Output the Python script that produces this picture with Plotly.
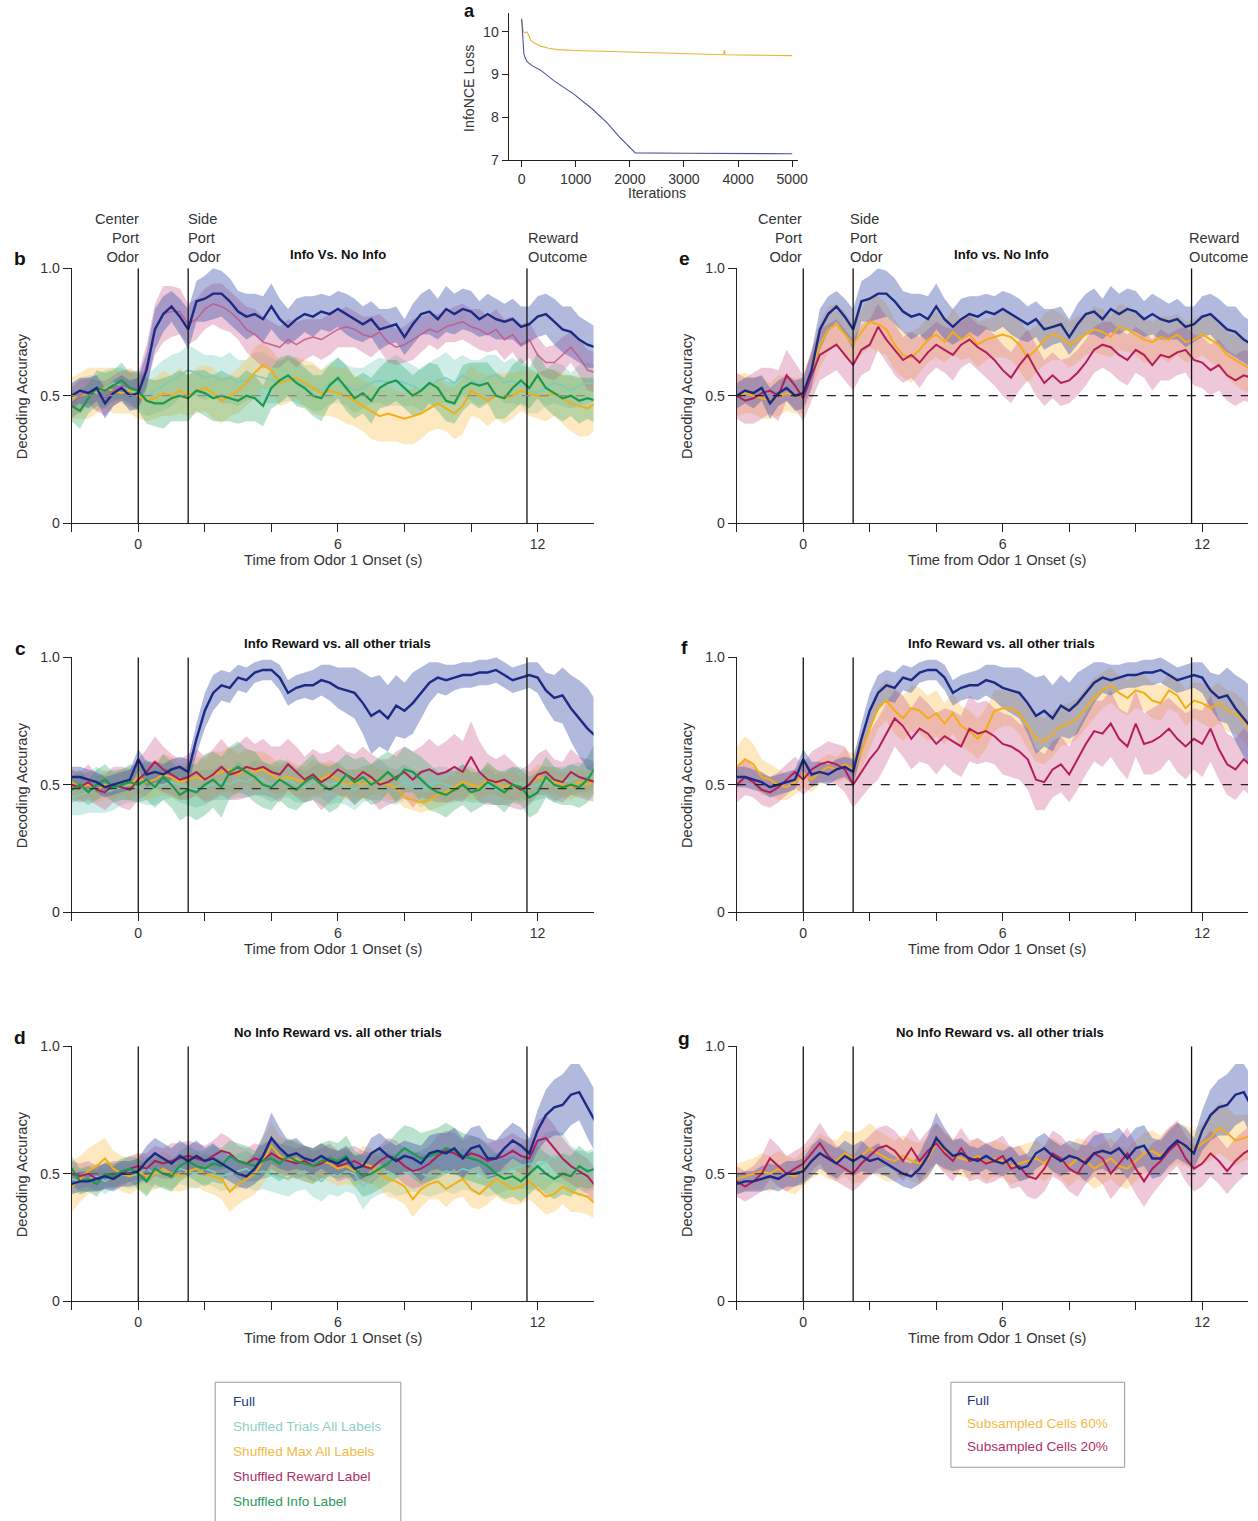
import plotly.graph_objects as go

W, H = 1258, 1521
FONT = "Liberation Sans, Arial, Helvetica, sans-serif"
TXT = "#333333"

# ---------------- panel a data ----------------
ITER_YEL = [0, 15, 30, 60, 100, 130, 166, 250, 351, 500, 658, 1000, 1500, 2196, 3000, 3733, 3745, 3760, 4300, 4963, 5000]
LOSS_YEL = [10.28, 10.15, 10.0, 9.97, 9.99, 9.92, 9.80, 9.72, 9.66, 9.61, 9.58, 9.56, 9.54, 9.52, 9.49, 9.46, 9.57, 9.46, 9.45, 9.44, 9.44]
ITER_BLUE = [0, 20, 40, 60, 100, 200, 350, 600, 965, 1300, 1581, 1800, 2073, 2100, 3000, 4000, 5000]
LOSS_BLUE = [10.3, 9.8, 9.5, 9.4, 9.3, 9.2, 9.1, 8.85, 8.54, 8.2, 7.87, 7.55, 7.19, 7.17, 7.16, 7.15, 7.15]

# ---------------- time grid ----------------
T = [-2.0, -1.75, -1.5, -1.25, -1.0, -0.75, -0.5, -0.25,
     0.0, 0.25, 0.5, 0.75, 1.0, 1.25, 1.5, 1.75,
     2.0, 2.25, 2.5, 2.75, 3.0, 3.25, 3.5, 3.75,
     4.0, 4.25, 4.5, 4.75, 5.0, 5.25, 5.5, 5.75,
     6.0, 6.25, 6.5, 6.75, 7.0, 7.25, 7.5, 7.75,
     8.0, 8.25, 8.5, 8.75, 9.0, 9.25, 9.5, 9.75,
     10.0, 10.25, 10.5, 10.75, 11.0, 11.25, 11.5, 11.75,
     12.0, 12.25, 12.5, 12.75, 13.0, 13.25, 13.5, 13.75]

EVENTS = [0.0, 1.5, 11.68]
X_TICKS = [-2, 0, 2, 4, 6, 8, 10, 12]
X_TICKTEXT = ["", "0", "", "", "6", "", "", "12"]
Y_TICKS = [0, 0.5, 1.0]
Y_TICKTEXT = ["0", "0.5", "1.0"]

# ---------------- Full model ----------------
FULL_INFO = [0.50, 0.52, 0.51, 0.53, 0.47, 0.51, 0.53, 0.50,
             0.51, 0.60, 0.76, 0.82, 0.85, 0.81, 0.76, 0.87,
             0.88, 0.90, 0.90, 0.87, 0.83, 0.81, 0.82, 0.80,
             0.85, 0.80, 0.77, 0.80, 0.82, 0.81, 0.83, 0.82,
             0.84, 0.82, 0.80, 0.78, 0.80, 0.76, 0.77, 0.78,
             0.73, 0.78, 0.82, 0.83, 0.80, 0.84, 0.82, 0.84,
             0.83, 0.80, 0.82, 0.80, 0.79, 0.80, 0.77, 0.78,
             0.81, 0.82, 0.79, 0.76, 0.75, 0.72, 0.70, 0.69]
FULL_INFO_ERR = [0.05, 0.05, 0.06, 0.05, 0.06, 0.05, 0.05, 0.06,
                 0.06, 0.07, 0.08, 0.07, 0.06, 0.07, 0.08, 0.08,
                 0.09, 0.10, 0.09, 0.09, 0.08, 0.09, 0.08, 0.09,
                 0.09, 0.08, 0.07, 0.08, 0.07, 0.08, 0.07, 0.07,
                 0.07, 0.08, 0.08, 0.07, 0.07, 0.08, 0.07, 0.07,
                 0.07, 0.08, 0.08, 0.09, 0.08, 0.09, 0.08, 0.08,
                 0.08, 0.07, 0.08, 0.08, 0.07, 0.08, 0.08, 0.07,
                 0.08, 0.08, 0.09, 0.09, 0.10, 0.09, 0.09, 0.08]

FULL_IREW = [0.53, 0.53, 0.52, 0.51, 0.49, 0.50, 0.51, 0.52,
             0.60, 0.54, 0.55, 0.54, 0.56, 0.57, 0.55, 0.68,
             0.79, 0.86, 0.89, 0.88, 0.92, 0.91, 0.94, 0.95,
             0.95, 0.92, 0.86, 0.88, 0.89, 0.89, 0.91, 0.90,
             0.88, 0.87, 0.86, 0.82, 0.77, 0.79, 0.76, 0.81,
             0.79, 0.82, 0.86, 0.90, 0.92, 0.91, 0.92, 0.93,
             0.93, 0.94, 0.94, 0.95, 0.93, 0.91, 0.92, 0.93,
             0.92, 0.87, 0.84, 0.85, 0.80, 0.76, 0.72, 0.69]
FULL_IREW_ERR = [0.04, 0.04, 0.04, 0.04, 0.04, 0.04, 0.04, 0.04,
                 0.04, 0.05, 0.04, 0.04, 0.04, 0.04, 0.05, 0.06,
                 0.07, 0.07, 0.06, 0.06, 0.05, 0.05, 0.04, 0.04,
                 0.04, 0.05, 0.05, 0.05, 0.05, 0.06, 0.06, 0.07,
                 0.08, 0.09, 0.10, 0.12, 0.15, 0.14, 0.13, 0.12,
                 0.11, 0.12, 0.10, 0.08, 0.06, 0.06, 0.05, 0.05,
                 0.05, 0.05, 0.05, 0.05, 0.05, 0.05, 0.05, 0.05,
                 0.06, 0.07, 0.09, 0.11, 0.13, 0.15, 0.16, 0.14]

FULL_NIREW = [0.46, 0.47, 0.47, 0.48, 0.49, 0.48, 0.50, 0.50,
              0.51, 0.55, 0.58, 0.56, 0.54, 0.57, 0.55, 0.57,
              0.55, 0.56, 0.54, 0.52, 0.50, 0.49, 0.52, 0.57,
              0.64, 0.60, 0.57, 0.58, 0.56, 0.55, 0.57, 0.55,
              0.54, 0.56, 0.52, 0.53, 0.58, 0.60, 0.57, 0.55,
              0.57, 0.56, 0.54, 0.58, 0.59, 0.58, 0.60, 0.56,
              0.60, 0.61, 0.56, 0.56, 0.60, 0.63, 0.61, 0.58,
              0.67, 0.73, 0.76, 0.77, 0.81, 0.82, 0.76, 0.70]
FULL_NIREW_ERR = [0.04, 0.04, 0.04, 0.05, 0.05, 0.05, 0.05, 0.05,
                  0.05, 0.06, 0.06, 0.06, 0.06, 0.06, 0.06, 0.06,
                  0.05, 0.06, 0.05, 0.05, 0.05, 0.05, 0.06, 0.08,
                  0.10, 0.08, 0.06, 0.06, 0.05, 0.05, 0.05, 0.05,
                  0.05, 0.05, 0.05, 0.05, 0.06, 0.06, 0.06, 0.06,
                  0.06, 0.06, 0.07, 0.07, 0.07, 0.08, 0.08, 0.08,
                  0.08, 0.08, 0.08, 0.07, 0.07, 0.07, 0.07, 0.06,
                  0.08, 0.10, 0.11, 0.12, 0.12, 0.11, 0.12, 0.12]

# ---------------- panel b shuffles ----------------
B_TRIALS = [0.48, 0.50, 0.52, 0.51, 0.53, 0.55, 0.54, 0.52,
            0.51, 0.50, 0.52, 0.54, 0.56, 0.58, 0.60, 0.59,
            0.57, 0.58, 0.56, 0.57, 0.55, 0.56, 0.58, 0.57,
            0.56, 0.55, 0.57, 0.56, 0.54, 0.53, 0.52, 0.55,
            0.56, 0.54, 0.52, 0.53, 0.55, 0.56, 0.55, 0.56,
            0.55, 0.54, 0.52, 0.54, 0.56, 0.57, 0.55, 0.58,
            0.56, 0.55, 0.57, 0.58, 0.55, 0.56, 0.54, 0.52,
            0.51, 0.53, 0.55, 0.54, 0.52, 0.54, 0.55, 0.55]
B_TRIALS_ERR = [0.06, 0.07, 0.06, 0.07, 0.07, 0.06, 0.07, 0.07,
                0.07, 0.08, 0.09, 0.10, 0.10, 0.09, 0.10, 0.09,
                0.09, 0.08, 0.09, 0.10, 0.09, 0.08, 0.09, 0.10,
                0.09, 0.08, 0.09, 0.09, 0.08, 0.09, 0.08, 0.08,
                0.09, 0.08, 0.09, 0.08, 0.08, 0.09, 0.09, 0.10,
                0.09, 0.08, 0.08, 0.09, 0.09, 0.10, 0.09, 0.08,
                0.08, 0.09, 0.09, 0.08, 0.08, 0.09, 0.08, 0.09,
                0.08, 0.07, 0.08, 0.08, 0.07, 0.08, 0.08, 0.07]
B_MAX = [0.49, 0.50, 0.51, 0.52, 0.53, 0.52, 0.51, 0.52,
         0.50, 0.48, 0.49, 0.51, 0.50, 0.52, 0.50, 0.52,
         0.53, 0.51, 0.48, 0.50, 0.52, 0.55, 0.59, 0.62,
         0.60, 0.55, 0.56, 0.57, 0.55, 0.53, 0.51, 0.52,
         0.51, 0.50, 0.48, 0.46, 0.44, 0.42, 0.43, 0.42,
         0.41, 0.42, 0.43, 0.45, 0.47, 0.45, 0.43, 0.46,
         0.52, 0.50, 0.48, 0.50, 0.49, 0.50, 0.52, 0.51,
         0.50, 0.50, 0.51, 0.49, 0.47, 0.46, 0.45, 0.47]
B_MAX_ERR = [0.08, 0.09, 0.10, 0.09, 0.08, 0.09, 0.08, 0.09,
             0.09, 0.08, 0.08, 0.09, 0.08, 0.09, 0.08, 0.09,
             0.09, 0.10, 0.09, 0.08, 0.09, 0.09, 0.10, 0.09,
             0.08, 0.09, 0.09, 0.08, 0.09, 0.10, 0.09, 0.10,
             0.10, 0.11, 0.10, 0.10, 0.11, 0.10, 0.11, 0.10,
             0.10, 0.11, 0.10, 0.09, 0.10, 0.09, 0.10, 0.11,
             0.10, 0.09, 0.10, 0.09, 0.10, 0.09, 0.08, 0.09,
             0.09, 0.10, 0.09, 0.10, 0.11, 0.12, 0.11, 0.10]
B_REWARD = [0.47, 0.50, 0.52, 0.50, 0.49, 0.52, 0.54, 0.53,
            0.52, 0.62, 0.76, 0.82, 0.83, 0.83, 0.78, 0.80,
            0.84, 0.86, 0.85, 0.83, 0.80, 0.76, 0.74, 0.71,
            0.70, 0.69, 0.72, 0.70, 0.72, 0.73, 0.72, 0.74,
            0.76, 0.77, 0.76, 0.74, 0.73, 0.75, 0.71, 0.69,
            0.70, 0.72, 0.74, 0.76, 0.75, 0.77, 0.78, 0.79,
            0.77, 0.76, 0.74, 0.76, 0.72, 0.74, 0.70, 0.72,
            0.66, 0.63, 0.63, 0.66, 0.69, 0.65, 0.60, 0.59]
B_REWARD_ERR = [0.06, 0.06, 0.05, 0.06, 0.07, 0.06, 0.06, 0.07,
                0.07, 0.08, 0.10, 0.11, 0.10, 0.09, 0.08, 0.08,
                0.08, 0.08, 0.09, 0.08, 0.08, 0.09, 0.10, 0.10,
                0.09, 0.08, 0.08, 0.09, 0.08, 0.07, 0.08, 0.08,
                0.07, 0.08, 0.07, 0.07, 0.08, 0.07, 0.08, 0.07,
                0.07, 0.08, 0.07, 0.06, 0.07, 0.06, 0.07, 0.07,
                0.07, 0.08, 0.07, 0.08, 0.08, 0.07, 0.08, 0.07,
                0.07, 0.06, 0.07, 0.07, 0.06, 0.07, 0.08, 0.08]
B_INFO = [0.46, 0.44, 0.49, 0.53, 0.52, 0.54, 0.56, 0.53,
          0.52, 0.48, 0.47, 0.47, 0.49, 0.50, 0.49, 0.52,
          0.51, 0.49, 0.50, 0.49, 0.48, 0.50, 0.49, 0.46,
          0.53, 0.56, 0.58, 0.55, 0.53, 0.50, 0.49, 0.54,
          0.57, 0.53, 0.49, 0.51, 0.48, 0.53, 0.55, 0.56,
          0.53, 0.50, 0.52, 0.55, 0.53, 0.48, 0.47, 0.53,
          0.55, 0.54, 0.55, 0.50, 0.49, 0.53, 0.56, 0.53,
          0.58, 0.53, 0.51, 0.49, 0.50, 0.48, 0.49, 0.48]
B_INFO_ERR = [0.06, 0.07, 0.06, 0.07, 0.07, 0.06, 0.07, 0.06,
              0.08, 0.09, 0.09, 0.10, 0.09, 0.10, 0.09, 0.08,
              0.09, 0.09, 0.10, 0.09, 0.09, 0.10, 0.09, 0.08,
              0.08, 0.09, 0.08, 0.09, 0.08, 0.08, 0.09, 0.08,
              0.08, 0.09, 0.08, 0.08, 0.09, 0.08, 0.09, 0.08,
              0.08, 0.08, 0.09, 0.08, 0.09, 0.08, 0.08, 0.09,
              0.08, 0.09, 0.08, 0.09, 0.08, 0.09, 0.09, 0.08,
              0.09, 0.08, 0.09, 0.09, 0.08, 0.09, 0.08, 0.09]

# ---------------- panel c shuffles ----------------
C_TRIALS = [0.45, 0.46, 0.47, 0.48, 0.47, 0.48, 0.49, 0.50,
            0.49, 0.48, 0.49, 0.50, 0.51, 0.50, 0.49, 0.48,
            0.49, 0.50, 0.51, 0.50, 0.52, 0.51, 0.53, 0.52,
            0.50, 0.51, 0.52, 0.50, 0.49, 0.51, 0.52, 0.50,
            0.51, 0.49, 0.48, 0.50, 0.51, 0.52, 0.50, 0.49,
            0.51, 0.50, 0.48, 0.50, 0.51, 0.50, 0.49, 0.51,
            0.50, 0.49, 0.50, 0.48, 0.49, 0.50, 0.51, 0.49,
            0.50, 0.51, 0.50, 0.51, 0.52, 0.53, 0.52, 0.54]
C_TRIALS_ERR = [0.07, 0.08, 0.08, 0.09, 0.08, 0.08, 0.07, 0.07,
                0.06, 0.06, 0.07, 0.06, 0.06, 0.07, 0.07, 0.07,
                0.07, 0.06, 0.07, 0.06, 0.07, 0.06, 0.07, 0.07,
                0.07, 0.06, 0.07, 0.07, 0.06, 0.06, 0.07, 0.08,
                0.08, 0.07, 0.08, 0.07, 0.07, 0.08, 0.07, 0.07,
                0.07, 0.06, 0.07, 0.06, 0.06, 0.07, 0.06, 0.07,
                0.07, 0.06, 0.07, 0.06, 0.07, 0.07, 0.06, 0.06,
                0.06, 0.06, 0.07, 0.06, 0.06, 0.06, 0.05, 0.05]
C_MAX = [0.51, 0.49, 0.50, 0.48, 0.50, 0.49, 0.51, 0.50,
         0.53, 0.51, 0.52, 0.54, 0.53, 0.51, 0.52, 0.53,
         0.52, 0.54, 0.55, 0.56, 0.54, 0.57, 0.55, 0.56,
         0.54, 0.52, 0.53, 0.52, 0.51, 0.53, 0.52, 0.54,
         0.52, 0.50, 0.51, 0.50, 0.52, 0.51, 0.50, 0.49,
         0.45, 0.44, 0.43, 0.44, 0.46, 0.47, 0.49, 0.51,
         0.50, 0.49, 0.52, 0.51, 0.49, 0.50, 0.48, 0.50,
         0.53, 0.52, 0.51, 0.50, 0.49, 0.51, 0.50, 0.52]
C_MAX_ERR = [0.05, 0.05, 0.05, 0.05, 0.06, 0.05, 0.05, 0.06,
             0.06, 0.07, 0.07, 0.08, 0.08, 0.07, 0.07, 0.08,
             0.08, 0.09, 0.08, 0.09, 0.08, 0.07, 0.08, 0.07,
             0.07, 0.06, 0.07, 0.06, 0.06, 0.07, 0.06, 0.06,
             0.06, 0.06, 0.05, 0.06, 0.06, 0.05, 0.06, 0.05,
             0.04, 0.04, 0.04, 0.04, 0.05, 0.05, 0.05, 0.06,
             0.06, 0.05, 0.06, 0.05, 0.05, 0.06, 0.05, 0.05,
             0.05, 0.05, 0.05, 0.05, 0.05, 0.05, 0.05, 0.05]
C_REWARD = [0.50, 0.49, 0.51, 0.48, 0.47, 0.50, 0.49, 0.48,
            0.52, 0.55, 0.59, 0.56, 0.54, 0.52, 0.53, 0.55,
            0.52, 0.54, 0.57, 0.54, 0.55, 0.57, 0.56, 0.57,
            0.55, 0.54, 0.58, 0.55, 0.52, 0.54, 0.51, 0.53,
            0.56, 0.54, 0.52, 0.55, 0.53, 0.50, 0.51, 0.53,
            0.55, 0.52, 0.55, 0.56, 0.54, 0.55, 0.57, 0.55,
            0.61, 0.55, 0.52, 0.51, 0.52, 0.50, 0.48, 0.50,
            0.54, 0.55, 0.52, 0.51, 0.55, 0.53, 0.52, 0.51]
C_REWARD_ERR = [0.06, 0.06, 0.07, 0.06, 0.07, 0.07, 0.08, 0.08,
                0.08, 0.09, 0.10, 0.09, 0.08, 0.08, 0.09, 0.09,
                0.09, 0.10, 0.11, 0.10, 0.11, 0.12, 0.10, 0.11,
                0.10, 0.11, 0.10, 0.10, 0.09, 0.10, 0.11, 0.10,
                0.10, 0.09, 0.10, 0.10, 0.09, 0.10, 0.09, 0.10,
                0.10, 0.11, 0.10, 0.12, 0.11, 0.12, 0.13, 0.12,
                0.14, 0.12, 0.10, 0.09, 0.10, 0.09, 0.08, 0.08,
                0.08, 0.09, 0.08, 0.08, 0.09, 0.08, 0.08, 0.08]
C_INFO = [0.48, 0.50, 0.47, 0.50, 0.52, 0.49, 0.50, 0.51,
          0.50, 0.52, 0.49, 0.53, 0.50, 0.46, 0.48, 0.47,
          0.50, 0.52, 0.49, 0.55, 0.57, 0.55, 0.53, 0.50,
          0.49, 0.52, 0.50, 0.48, 0.51, 0.53, 0.50, 0.48,
          0.50, 0.54, 0.51, 0.53, 0.50, 0.52, 0.55, 0.52,
          0.56, 0.55, 0.52, 0.49, 0.47, 0.46, 0.48, 0.50,
          0.47, 0.48, 0.51, 0.49, 0.47, 0.50, 0.49, 0.45,
          0.47, 0.53, 0.50, 0.49, 0.50, 0.49, 0.52, 0.57]
C_INFO_ERR = [0.05, 0.06, 0.05, 0.06, 0.06, 0.06, 0.06, 0.07,
              0.07, 0.08, 0.08, 0.09, 0.09, 0.10, 0.10, 0.11,
              0.12, 0.11, 0.12, 0.10, 0.10, 0.09, 0.10, 0.09,
              0.09, 0.08, 0.09, 0.08, 0.08, 0.09, 0.08, 0.09,
              0.09, 0.08, 0.09, 0.08, 0.08, 0.09, 0.08, 0.09,
              0.09, 0.08, 0.09, 0.09, 0.08, 0.09, 0.08, 0.08,
              0.08, 0.07, 0.08, 0.07, 0.08, 0.07, 0.07, 0.08,
              0.08, 0.08, 0.07, 0.07, 0.08, 0.08, 0.09, 0.10]

# ---------------- panel d shuffles ----------------
D_TRIALS = [0.48, 0.47, 0.48, 0.49, 0.47, 0.49, 0.50, 0.49,
            0.50, 0.52, 0.50, 0.51, 0.50, 0.52, 0.51, 0.50,
            0.52, 0.51, 0.49, 0.50, 0.51, 0.52, 0.50, 0.51,
            0.50, 0.49, 0.48, 0.50, 0.51, 0.49, 0.47, 0.50,
            0.49, 0.51, 0.50, 0.45, 0.48, 0.50, 0.51, 0.49,
            0.50, 0.51, 0.50, 0.49, 0.50, 0.51, 0.50, 0.52,
            0.51, 0.50, 0.49, 0.50, 0.51, 0.52, 0.53, 0.54,
            0.53, 0.55, 0.57, 0.56, 0.52, 0.50, 0.51, 0.52]
D_TRIALS_ERR = [0.05, 0.05, 0.05, 0.05, 0.05, 0.05, 0.05, 0.05,
                0.05, 0.05, 0.06, 0.06, 0.06, 0.06, 0.06, 0.06,
                0.06, 0.06, 0.06, 0.06, 0.07, 0.07, 0.07, 0.07,
                0.07, 0.07, 0.07, 0.07, 0.07, 0.08, 0.08, 0.08,
                0.08, 0.08, 0.08, 0.09, 0.08, 0.08, 0.08, 0.08,
                0.08, 0.08, 0.08, 0.08, 0.08, 0.08, 0.08, 0.08,
                0.08, 0.08, 0.08, 0.08, 0.08, 0.08, 0.09, 0.10,
                0.10, 0.11, 0.10, 0.10, 0.09, 0.09, 0.08, 0.08]
D_MAX = [0.45, 0.48, 0.51, 0.53, 0.56, 0.52, 0.50, 0.49,
         0.51, 0.49, 0.50, 0.52, 0.50, 0.49, 0.51, 0.52,
         0.50, 0.49, 0.48, 0.43, 0.46, 0.48, 0.50, 0.55,
         0.61, 0.57, 0.55, 0.56, 0.54, 0.53, 0.55, 0.54,
         0.52, 0.53, 0.51, 0.54, 0.53, 0.50, 0.48, 0.47,
         0.45, 0.40, 0.44, 0.46, 0.47, 0.44, 0.46, 0.48,
         0.44, 0.42, 0.45, 0.48, 0.46, 0.44, 0.45, 0.47,
         0.44, 0.41, 0.42, 0.45, 0.43, 0.42, 0.41, 0.38]
D_MAX_ERR = [0.10, 0.09, 0.09, 0.09, 0.08, 0.07, 0.07, 0.07,
             0.07, 0.07, 0.06, 0.07, 0.07, 0.06, 0.07, 0.07,
             0.07, 0.07, 0.08, 0.08, 0.08, 0.08, 0.08, 0.09,
             0.09, 0.08, 0.08, 0.07, 0.07, 0.07, 0.07, 0.07,
             0.07, 0.07, 0.06, 0.07, 0.07, 0.06, 0.07, 0.07,
             0.07, 0.07, 0.07, 0.06, 0.07, 0.07, 0.06, 0.07,
             0.07, 0.06, 0.07, 0.07, 0.07, 0.06, 0.07, 0.07,
             0.07, 0.07, 0.07, 0.07, 0.08, 0.07, 0.07, 0.06]
D_REWARD = [0.50, 0.49, 0.50, 0.48, 0.49, 0.50, 0.50, 0.52,
            0.53, 0.52, 0.55, 0.54, 0.55, 0.56, 0.57, 0.56,
            0.55, 0.57, 0.59, 0.58, 0.55, 0.54, 0.56, 0.55,
            0.58, 0.56, 0.55, 0.54, 0.55, 0.53, 0.54, 0.56,
            0.53, 0.54, 0.55, 0.53, 0.52, 0.55, 0.57, 0.56,
            0.53, 0.51, 0.52, 0.54, 0.57, 0.59, 0.58, 0.56,
            0.58, 0.57, 0.55, 0.56, 0.57, 0.59, 0.57, 0.56,
            0.63, 0.64, 0.60, 0.56, 0.53, 0.51, 0.49, 0.45]
D_REWARD_ERR = [0.05, 0.05, 0.05, 0.05, 0.05, 0.05, 0.05, 0.05,
                0.05, 0.06, 0.06, 0.06, 0.07, 0.06, 0.06, 0.06,
                0.06, 0.06, 0.07, 0.06, 0.06, 0.06, 0.06, 0.06,
                0.06, 0.06, 0.06, 0.06, 0.06, 0.06, 0.06, 0.06,
                0.06, 0.06, 0.06, 0.06, 0.06, 0.06, 0.07, 0.07,
                0.07, 0.07, 0.07, 0.07, 0.08, 0.08, 0.08, 0.07,
                0.07, 0.07, 0.07, 0.07, 0.07, 0.07, 0.07, 0.07,
                0.08, 0.09, 0.09, 0.08, 0.07, 0.07, 0.07, 0.07]
D_INFO = [0.52, 0.47, 0.48, 0.46, 0.50, 0.49, 0.51, 0.52,
          0.50, 0.47, 0.52, 0.50, 0.49, 0.53, 0.55, 0.53,
          0.52, 0.54, 0.53, 0.57, 0.55, 0.54, 0.53, 0.55,
          0.56, 0.54, 0.57, 0.55, 0.54, 0.53, 0.55, 0.56,
          0.55, 0.57, 0.52, 0.49, 0.50, 0.52, 0.54, 0.57,
          0.60, 0.58, 0.56, 0.57, 0.58, 0.60, 0.59, 0.57,
          0.56, 0.55, 0.53, 0.50, 0.48, 0.49, 0.47, 0.50,
          0.53, 0.50, 0.48, 0.50, 0.49, 0.53, 0.51, 0.52]
D_INFO_ERR = [0.05, 0.05, 0.05, 0.05, 0.05, 0.05, 0.05, 0.05,
              0.06, 0.06, 0.06, 0.06, 0.06, 0.06, 0.06, 0.06,
              0.07, 0.07, 0.07, 0.06, 0.07, 0.07, 0.06, 0.07,
              0.07, 0.07, 0.07, 0.07, 0.07, 0.07, 0.07, 0.07,
              0.07, 0.08, 0.07, 0.08, 0.08, 0.08, 0.08, 0.09,
              0.09, 0.10, 0.10, 0.10, 0.10, 0.10, 0.09, 0.09,
              0.09, 0.09, 0.08, 0.08, 0.08, 0.08, 0.08, 0.08,
              0.08, 0.08, 0.08, 0.08, 0.08, 0.08, 0.07, 0.07]

# ---------------- subsampled (e, f, g) ----------------
E_60 = [0.50, 0.51, 0.50, 0.49, 0.48, 0.50, 0.51, 0.50,
        0.50, 0.60, 0.70, 0.76, 0.78, 0.74, 0.70, 0.75,
        0.79, 0.78, 0.76, 0.70, 0.66, 0.65, 0.68, 0.72,
        0.74, 0.71, 0.75, 0.72, 0.74, 0.70, 0.72, 0.73,
        0.74, 0.73, 0.70, 0.65, 0.68, 0.72, 0.74, 0.73,
        0.70, 0.72, 0.74, 0.76, 0.75, 0.73, 0.77, 0.76,
        0.74, 0.72, 0.71, 0.73, 0.72, 0.74, 0.71, 0.72,
        0.74, 0.72, 0.70, 0.66, 0.64, 0.62, 0.60, 0.57]
E_60_ERR = [0.08, 0.08, 0.07, 0.08, 0.07, 0.08, 0.07, 0.07,
            0.07, 0.08, 0.09, 0.09, 0.08, 0.09, 0.08, 0.09,
            0.10, 0.11, 0.10, 0.10, 0.09, 0.10, 0.09, 0.09,
            0.09, 0.08, 0.09, 0.08, 0.09, 0.09, 0.08, 0.08,
            0.09, 0.09, 0.10, 0.10, 0.09, 0.10, 0.10, 0.09,
            0.09, 0.09, 0.08, 0.09, 0.09, 0.08, 0.09, 0.09,
            0.08, 0.09, 0.08, 0.08, 0.09, 0.08, 0.08, 0.08,
            0.08, 0.09, 0.09, 0.09, 0.10, 0.10, 0.09, 0.09]
E_20 = [0.50, 0.48, 0.49, 0.51, 0.52, 0.50, 0.58, 0.54,
        0.49, 0.58, 0.66, 0.68, 0.70, 0.66, 0.62, 0.68,
        0.70, 0.77, 0.72, 0.68, 0.64, 0.66, 0.63, 0.67,
        0.70, 0.68, 0.66, 0.70, 0.72, 0.69, 0.67, 0.64,
        0.60, 0.57, 0.62, 0.66, 0.60, 0.55, 0.58, 0.55,
        0.56, 0.59, 0.63, 0.68, 0.70, 0.69, 0.66, 0.64,
        0.68, 0.66, 0.62, 0.66, 0.65, 0.67, 0.68, 0.64,
        0.63, 0.60, 0.62, 0.58, 0.56, 0.58, 0.57, 0.56]
E_20_ERR = [0.09, 0.09, 0.10, 0.10, 0.09, 0.10, 0.10, 0.09,
            0.09, 0.10, 0.10, 0.10, 0.10, 0.10, 0.10, 0.10,
            0.10, 0.09, 0.09, 0.10, 0.09, 0.09, 0.10, 0.09,
            0.09, 0.09, 0.10, 0.09, 0.09, 0.09, 0.10, 0.10,
            0.10, 0.10, 0.10, 0.10, 0.10, 0.09, 0.09, 0.09,
            0.09, 0.09, 0.09, 0.09, 0.09, 0.10, 0.10, 0.10,
            0.09, 0.09, 0.10, 0.10, 0.09, 0.09, 0.09, 0.10,
            0.10, 0.10, 0.10, 0.10, 0.10, 0.10, 0.10, 0.10]
F_60 = [0.57, 0.60, 0.58, 0.53, 0.52, 0.50, 0.49, 0.51,
        0.54, 0.52, 0.55, 0.57, 0.56, 0.58, 0.56, 0.63,
        0.72, 0.80, 0.83, 0.79, 0.76, 0.80, 0.79, 0.76,
        0.78, 0.74, 0.78, 0.73, 0.71, 0.68, 0.72, 0.79,
        0.80, 0.80, 0.78, 0.73, 0.68, 0.67, 0.70, 0.73,
        0.74, 0.76, 0.80, 0.84, 0.87, 0.89, 0.86, 0.84,
        0.87, 0.86, 0.83, 0.82, 0.87, 0.85, 0.80, 0.83,
        0.82, 0.80, 0.82, 0.79, 0.78, 0.75, 0.70, 0.68]
F_60_ERR = [0.08, 0.09, 0.08, 0.07, 0.06, 0.06, 0.05, 0.05,
            0.05, 0.05, 0.05, 0.05, 0.05, 0.06, 0.06, 0.07,
            0.08, 0.08, 0.08, 0.09, 0.09, 0.09, 0.09, 0.09,
            0.09, 0.08, 0.08, 0.08, 0.08, 0.08, 0.08, 0.08,
            0.07, 0.07, 0.08, 0.09, 0.09, 0.09, 0.09, 0.08,
            0.08, 0.08, 0.08, 0.08, 0.07, 0.07, 0.07, 0.07,
            0.07, 0.07, 0.07, 0.07, 0.07, 0.07, 0.07, 0.07,
            0.08, 0.08, 0.08, 0.08, 0.08, 0.08, 0.08, 0.08]
F_20 = [0.50, 0.53, 0.51, 0.48, 0.47, 0.49, 0.52, 0.55,
        0.52, 0.56, 0.58, 0.59, 0.58, 0.56, 0.50, 0.55,
        0.60, 0.64, 0.70, 0.76, 0.73, 0.68, 0.72, 0.70,
        0.66, 0.69, 0.67, 0.65, 0.72, 0.70, 0.71, 0.69,
        0.66, 0.65, 0.63, 0.60, 0.52, 0.51, 0.56, 0.58,
        0.54, 0.60, 0.66, 0.71, 0.70, 0.74, 0.68, 0.65,
        0.74, 0.66, 0.67, 0.69, 0.72, 0.68, 0.65, 0.68,
        0.66, 0.72, 0.64, 0.58, 0.56, 0.60, 0.57, 0.55]
F_20_ERR = [0.07, 0.07, 0.06, 0.06, 0.06, 0.06, 0.06, 0.06,
            0.06, 0.07, 0.07, 0.08, 0.08, 0.09, 0.09, 0.10,
            0.11, 0.12, 0.12, 0.11, 0.12, 0.12, 0.13, 0.12,
            0.12, 0.11, 0.12, 0.12, 0.13, 0.12, 0.12, 0.11,
            0.12, 0.12, 0.11, 0.12, 0.12, 0.11, 0.11, 0.11,
            0.11, 0.12, 0.12, 0.12, 0.13, 0.13, 0.12, 0.13,
            0.13, 0.12, 0.13, 0.13, 0.12, 0.13, 0.13, 0.12,
            0.13, 0.13, 0.12, 0.12, 0.12, 0.12, 0.12, 0.12]
G_60 = [0.48, 0.49, 0.50, 0.51, 0.50, 0.52, 0.50, 0.49,
        0.52, 0.55, 0.58, 0.56, 0.55, 0.58, 0.56, 0.57,
        0.60, 0.58, 0.56, 0.55, 0.57, 0.55, 0.54, 0.56,
        0.62, 0.59, 0.57, 0.56, 0.55, 0.57, 0.54, 0.56,
        0.55, 0.53, 0.54, 0.55, 0.56, 0.54, 0.57, 0.55,
        0.53, 0.56, 0.55, 0.52, 0.54, 0.56, 0.53, 0.52,
        0.55, 0.58, 0.59, 0.57, 0.60, 0.62, 0.61, 0.59,
        0.62, 0.64, 0.68, 0.66, 0.63, 0.64, 0.65, 0.62]
G_60_ERR = [0.06, 0.06, 0.06, 0.07, 0.07, 0.07, 0.07, 0.07,
            0.07, 0.07, 0.08, 0.08, 0.08, 0.09, 0.10, 0.10,
            0.10, 0.09, 0.09, 0.08, 0.08, 0.08, 0.08, 0.08,
            0.08, 0.08, 0.07, 0.07, 0.07, 0.07, 0.07, 0.07,
            0.07, 0.07, 0.07, 0.07, 0.07, 0.07, 0.07, 0.07,
            0.08, 0.08, 0.08, 0.08, 0.08, 0.08, 0.08, 0.08,
            0.08, 0.08, 0.08, 0.08, 0.08, 0.08, 0.08, 0.08,
            0.08, 0.09, 0.10, 0.10, 0.10, 0.09, 0.09, 0.09]
G_20 = [0.47, 0.45, 0.47, 0.50, 0.56, 0.53, 0.50, 0.52,
        0.54, 0.58, 0.62, 0.57, 0.54, 0.52, 0.50, 0.54,
        0.57, 0.60, 0.61, 0.59, 0.55, 0.60, 0.55, 0.59,
        0.62, 0.58, 0.55, 0.60, 0.55, 0.56, 0.54, 0.55,
        0.57, 0.52, 0.53, 0.49, 0.48, 0.52, 0.58, 0.56,
        0.52, 0.50, 0.55, 0.58, 0.56, 0.50, 0.54, 0.58,
        0.52, 0.47, 0.52, 0.55, 0.59, 0.62, 0.56, 0.52,
        0.54, 0.58, 0.55, 0.51, 0.55, 0.58, 0.60, 0.57]
G_20_ERR = [0.06, 0.06, 0.06, 0.07, 0.08, 0.08, 0.07, 0.07,
            0.07, 0.07, 0.08, 0.08, 0.07, 0.07, 0.07, 0.08,
            0.08, 0.08, 0.08, 0.08, 0.08, 0.08, 0.08, 0.08,
            0.08, 0.08, 0.08, 0.08, 0.08, 0.08, 0.08, 0.08,
            0.08, 0.08, 0.08, 0.08, 0.08, 0.09, 0.09, 0.09,
            0.09, 0.09, 0.09, 0.09, 0.10, 0.10, 0.10, 0.10,
            0.10, 0.10, 0.10, 0.09, 0.09, 0.09, 0.09, 0.09,
            0.09, 0.09, 0.09, 0.09, 0.09, 0.09, 0.09, 0.09]

# ---------------- labels ----------------
LEGEND_LEFT = ["Full", "Shuffled Trials All Labels", "Shuffled Max All Labels",
               "Shuffled Reward Label", "Shuffled Info Label"]
LEGEND_RIGHT = ["Full", "Subsampled Cells 60%", "Subsampled Cells 20%"]

# ---------------- styles ----------------
NAVY, NAVY_B = "#1c2a85", "rgba(70,88,175,0.42)"
TEAL, TEAL_B = "#7ccbbf", "rgba(120,205,192,0.36)"
YEL, YEL_B = "#f3ad17", "rgba(250,200,105,0.42)"
CRIM, CRIM_B = "#b41d5a", "rgba(205,95,145,0.34)"
PINK_LINE = "rgba(192,88,138,0.85)"
GRN, GRN_B = "#1a9a4a", "rgba(55,170,105,0.34)"

# page placement correction (measured: the page shows the figure slightly shrunk and shifted down)
SX, AX = 0.9937, -1.5
SY, AY = 0.9894, 7.85
FS = 1.0 / SY  # font compensation


def px(x):
    return ((x - AX) / SX) / W


def py(y):
    return 1 - ((y - AY) / SY) / H


fig = go.Figure()

# ---------- panel a ----------
fig.add_trace(go.Scatter(x=ITER_YEL, y=LOSS_YEL, mode="lines", line=dict(color="#e8b535", width=1.1),
                         xaxis="x", yaxis="y", hoverinfo="skip"))
fig.add_trace(go.Scatter(x=ITER_BLUE, y=LOSS_BLUE, mode="lines", line=dict(color="#4a559f", width=1.1),
                         xaxis="x", yaxis="y", hoverinfo="skip"))

axis_common = dict(showline=True, linecolor="#222", linewidth=1, ticks="outside", tickcolor="#222",
                   tickwidth=1, showgrid=False, zeroline=False,
                   tickfont=dict(size=14 * FS, color=TXT, family=FONT))

layout = dict(
    xaxis=dict(domain=[px(508), px(798)], range=[-240, 5110], anchor="y",
               tickvals=[0, 1000, 2000, 3000, 4000, 5000], ticklen=6, **axis_common),
    yaxis=dict(domain=[py(160), py(13)], range=[7, 10.43], anchor="x",
               tickvals=[7, 8, 9, 10], ticklen=6, **axis_common),
)

PXS = 33.3  # reference pixels per second
LEFT = (70.33, 593.0)
RIGHT = (736.5, 1258.0)
ROWS = [(268, 523), (657, 912), (1046, 1301)]

panels = [
    dict(n=2, col=LEFT, row=ROWS[0], chance=0.5, dcol="#8a8a8a", series=[
        (B_TRIALS, B_TRIALS_ERR, TEAL, TEAL_B, 1.6),
        (B_MAX, B_MAX_ERR, YEL, YEL_B, 2.0),
        (B_REWARD, B_REWARD_ERR, PINK_LINE, CRIM_B, 1.6),
        (B_INFO, B_INFO_ERR, GRN, GRN_B, 2.2),
        (FULL_INFO, FULL_INFO_ERR, NAVY, NAVY_B, 2.4)]),
    dict(n=3, col=LEFT, row=ROWS[1], chance=0.485, dcol="#333", series=[
        (C_TRIALS, C_TRIALS_ERR, TEAL, TEAL_B, 1.6),
        (C_MAX, C_MAX_ERR, YEL, YEL_B, 2.0),
        (C_REWARD, C_REWARD_ERR, CRIM, CRIM_B, 2.0),
        (C_INFO, C_INFO_ERR, GRN, GRN_B, 2.2),
        (FULL_IREW, FULL_IREW_ERR, NAVY, NAVY_B, 2.4)]),
    dict(n=4, col=LEFT, row=ROWS[2], chance=0.5, dcol="#555", series=[
        (D_TRIALS, D_TRIALS_ERR, TEAL, TEAL_B, 1.6),
        (D_MAX, D_MAX_ERR, YEL, YEL_B, 2.0),
        (D_REWARD, D_REWARD_ERR, CRIM, CRIM_B, 2.0),
        (D_INFO, D_INFO_ERR, GRN, GRN_B, 2.2),
        (FULL_NIREW, FULL_NIREW_ERR, NAVY, NAVY_B, 2.4)]),
    dict(n=5, col=RIGHT, row=ROWS[0], chance=0.5, dcol="#222", series=[
        (E_60, E_60_ERR, YEL, YEL_B, 2.0),
        (E_20, E_20_ERR, CRIM, CRIM_B, 2.0),
        (FULL_INFO, FULL_INFO_ERR, NAVY, NAVY_B, 2.4)]),
    dict(n=6, col=RIGHT, row=ROWS[1], chance=0.5, dcol="#222", series=[
        (F_60, F_60_ERR, YEL, YEL_B, 2.0),
        (F_20, F_20_ERR, CRIM, CRIM_B, 2.0),
        (FULL_IREW, FULL_IREW_ERR, NAVY, NAVY_B, 2.4)]),
    dict(n=7, col=RIGHT, row=ROWS[2], chance=0.5, dcol="#222", series=[
        (G_60, G_60_ERR, YEL, YEL_B, 2.0),
        (G_20, G_20_ERR, CRIM, CRIM_B, 2.0),
        (FULL_NIREW, FULL_NIREW_ERR, NAVY, NAVY_B, 2.4)]),
]

shapes = []
for p in panels:
    n = p["n"]
    xa, ya = f"x{n}", f"y{n}"
    x0p, x1p = p["col"]
    top, bot = p["row"]
    d1 = px(x1p)
    t_end = 13.68
    if d1 > 1.0:
        # visible part ends at the figure edge
        x_edge = AX + SX * W
        t_end = -2 + (x_edge - x0p) / PXS
        d1 = 1.0
    layout[f"xaxis{n}"] = dict(domain=[px(x0p), d1], range=[-2, t_end], anchor=ya,
                               tickvals=X_TICKS, ticktext=X_TICKTEXT, ticklen=8, **axis_common)
    layout[f"yaxis{n}"] = dict(domain=[py(bot), py(top)], range=[0, 1.0], anchor=xa,
                               tickvals=Y_TICKS, ticktext=Y_TICKTEXT, ticklen=8, **axis_common)
    for (m, e, lc, bc, lw) in p["series"]:
        assert len(m) == len(T) and len(e) == len(T), "length mismatch"
        up = [a + b for a, b in zip(m, e)]
        lo = [a - b for a, b in zip(m, e)]
        fig.add_trace(go.Scatter(x=T + T[::-1], y=up + lo[::-1], fill="toself", fillcolor=bc,
                                 line=dict(width=0), mode="lines", xaxis=xa, yaxis=ya, hoverinfo="skip"))
    for (m, e, lc, bc, lw) in p["series"]:
        fig.add_trace(go.Scatter(x=T, y=m, mode="lines", line=dict(color=lc, width=lw),
                                 xaxis=xa, yaxis=ya, hoverinfo="skip"))
    for ev in EVENTS:
        shapes.append(dict(type="line", xref=xa, yref=ya, x0=ev, x1=ev, y0=0, y1=1.0,
                           line=dict(color="#111", width=1.3)))
    shapes.append(dict(type="line", xref=f"{xa} domain", yref=ya, x0=0, x1=1, y0=p["chance"], y1=p["chance"],
                       line=dict(color=p["dcol"], width=1.2, dash="dash")))

# legend boxes
shapes.append(dict(type="rect", xref="paper", yref="paper", x0=px(214), x1=px(400), y0=py(1540), y1=py(1382),
                   line=dict(color="#9a9a9a", width=1)))
shapes.append(dict(type="rect", xref="paper", yref="paper", x0=px(951), x1=px(1125), y0=py(1467), y1=py(1382),
                   line=dict(color="#9a9a9a", width=1)))

ann = []


def A(text, x, y, size=14, bold=False, xanchor="center", yanchor="middle", align="left", color=TXT, angle=0):
    t = f"<b>{text}</b>" if bold else text
    ann.append(dict(text=t, x=px(x), y=py(y), xref="paper", yref="paper", showarrow=False,
                    xanchor=xanchor, yanchor=yanchor, align=align, textangle=angle,
                    font=dict(size=size * FS, color=color, family=FONT)))


# panel a labels
A("a", 469, 11, size=18, bold=True, color="#111")
A("InfoNCE Loss", 468, 88, angle=-90)
A("Iterations", 657, 193)

# panel labels / titles
letters = [("b", 19, 258), ("c", 19, 648), ("d", 19, 1037), ("e", 684, 258), ("f", 684, 647), ("g", 684, 1038)]
for L, x, y in letters:
    A(L, x, y, size=19, bold=True, color="#111")

titles = [("Info Vs. No Info", 337, 254), ("Info Reward vs. all other trials", 337, 643),
          ("No Info Reward vs. all other trials", 337, 1032),
          ("Info vs. No Info", 1002, 254), ("Info Reward vs. all other trials", 1002, 643),
          ("No Info Reward vs. all other trials", 1000, 1032)]
for t, x, y in titles:
    A(t, x, y, size=13, bold=True, color="#111")

for (top, bot) in ROWS:
    mid = (top + bot) / 2
    A("Decoding Accuracy", 20, mid, size=14.5, angle=-90)
    A("Decoding Accuracy", 686, mid, size=14.5, angle=-90)
    A("Time from Odor 1 Onset (s)", 332, bot + 37, size=14.5)
    A("Time from Odor 1 Onset (s)", 997, bot + 37, size=14.5)

# event labels
for (c0, s0, r0) in [(140, 185, 525), (804, 848, 1187)]:
    A("Center<br>Port<br>Odor", c0, 267, size=14.5, xanchor="right", yanchor="bottom", align="right")
    A("Side<br>Port<br>Odor", s0, 267, size=14.5, xanchor="left", yanchor="bottom", align="left")
    A("Reward<br>Outcome", r0, 267, size=14.5, xanchor="left", yanchor="bottom", align="left")

# legend text
LCOL = ["#27337d", "#8fd0c6", "#f2b946", "#ad2f68", "#2b9a55"]
for i, (txt, c) in enumerate(zip(LEGEND_LEFT, LCOL)):
    A(txt, 230, 1401 + 25 * i, size=13.5, xanchor="left", color=c)
RCOL = ["#27337d", "#f2b946", "#ad2f68"]
for i, (txt, c) in enumerate(zip(LEGEND_RIGHT, RCOL)):
    A(txt, 965, 1400 + 23 * i, size=13.5, xanchor="left", color=c)

fig.update_layout(**layout)
fig.update_layout(width=W, height=H, margin=dict(l=0, r=0, t=0, b=0), showlegend=False,
                  paper_bgcolor="white", plot_bgcolor="white", shapes=shapes, annotations=ann,
                  font=dict(family=FONT, color=TXT), hovermode=False)
fig.write_html("out.html",
               config={"displayModeBar": False, "responsive": False},
               post_script="document.body.style.margin='0';document.body.style.padding='0';"
                           "document.documentElement.style.overflow='hidden';document.body.style.overflow='hidden';")
